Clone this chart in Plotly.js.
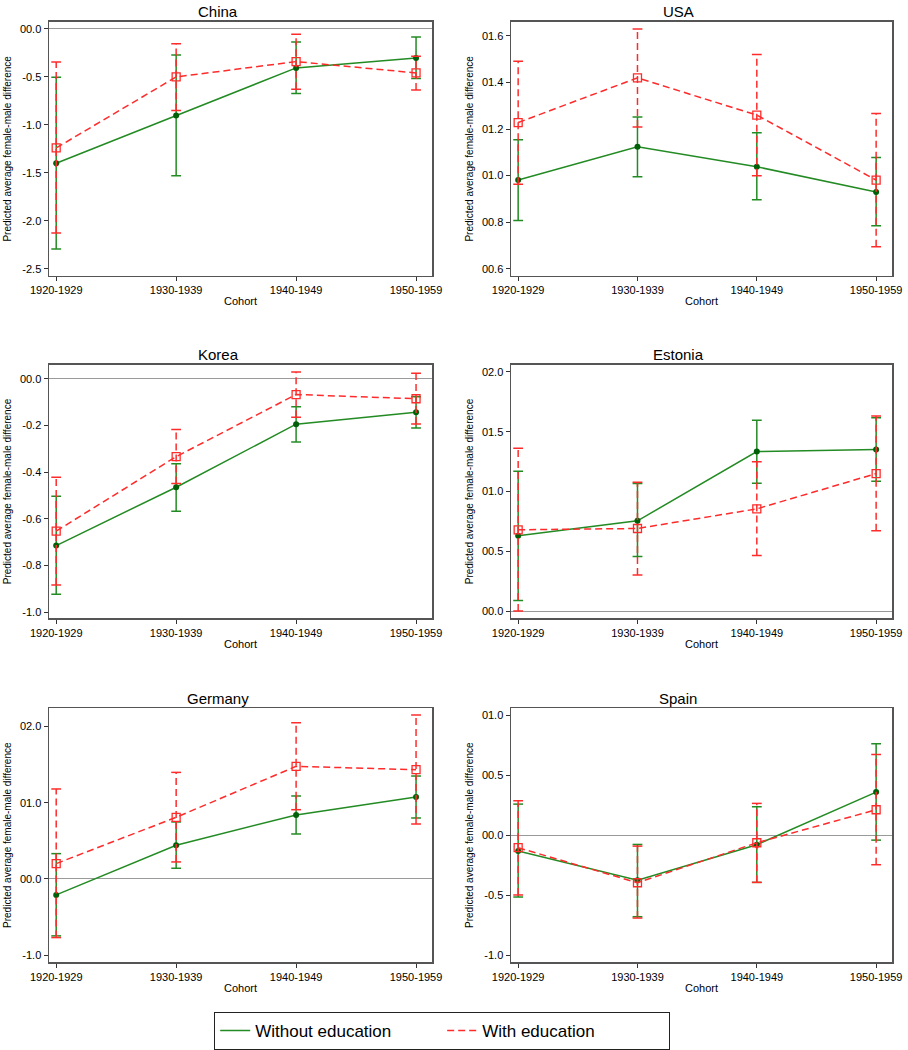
<!DOCTYPE html>
<html>
<head>
<meta charset="utf-8">
<script src="https://cdn.plot.ly/plotly-3.0.1.min.js"></script>
<style>
  body { margin: 0; background: #fff; }
  #chart { width: 908px; height: 1050px; }
</style>
</head>
<body>
<div id="chart"></div>
<script>
var cohorts = ['1920-1929', '1930-1939', '1940-1949', '1950-1959'];
var countries = ['China', 'USA', 'Korea', 'Estonia', 'Germany', 'Spain'];

// estimates and 95% CI bounds
var chinaWithout   = [-1.40, -0.903, -0.406, -0.302];
var chinaWithoutLo = [-2.295, -1.531, -0.674, -0.517];
var chinaWithoutHi = [-0.503, -0.271, -0.135, -0.083];
var chinaWith      = [-1.24, -0.50, -0.34, -0.458];
var chinaWithLo    = [-2.128, -0.851, -0.628, -0.635];
var chinaWithHi    = [-0.344, -0.153, -0.056, -0.285];

var usaWithout   = [0.981, 1.124, 1.038, 0.930];
var usaWithoutLo = [0.807, 0.995, 0.896, 0.785];
var usaWithoutHi = [1.154, 1.252, 1.184, 1.078];
var usaWith      = [1.228, 1.420, 1.260, 0.981];
var usaWithLo    = [0.963, 1.209, 0.999, 0.694];
var usaWithHi    = [1.491, 1.630, 1.520, 1.267];

var koreaWithout   = [-0.715, -0.465, -0.195, -0.144];
var koreaWithoutLo = [-0.924, -0.568, -0.271, -0.211];
var koreaWithoutHi = [-0.504, -0.364, -0.120, -0.078];
var koreaWith      = [-0.653, -0.334, -0.068, -0.086];
var koreaWithLo    = [-0.884, -0.449, -0.165, -0.194];
var koreaWithHi    = [-0.422, -0.218, 0.029, 0.023];

var estoniaWithout   = [0.630, 0.755, 1.334, 1.351];
var estoniaWithoutLo = [0.089, 0.457, 1.070, 1.086];
var estoniaWithoutHi = [1.170, 1.067, 1.596, 1.616];
var estoniaWith      = [0.680, 0.691, 0.855, 1.150];
var estoniaWithLo    = [0.000, 0.301, 0.465, 0.671];
var estoniaWithHi    = [1.362, 1.078, 1.248, 1.632];

var germanyWithout   = [-0.210, 0.442, 0.840, 1.076];
var germanyWithoutLo = [-0.748, 0.140, 0.590, 0.800];
var germanyWithoutHi = [0.332, 0.748, 1.089, 1.351];
var germanyWith      = [0.201, 0.809, 1.478, 1.434];
var germanyWithLo    = [-0.770, 0.223, 0.909, 0.721];
var germanyWithHi    = [1.181, 1.399, 2.051, 2.151];

var spainWithout   = [-0.133, -0.377, -0.080, 0.358];
var spainWithoutLo = [-0.516, -0.680, -0.394, -0.042];
var spainWithoutHi = [0.258, -0.078, 0.236, 0.760];
var spainWith      = [-0.105, -0.397, -0.064, 0.211];
var spainWithLo    = [-0.499, -0.691, -0.394, -0.247];
var spainWithHi    = [0.286, -0.092, 0.264, 0.671];

// y tick labels as printed on the figure
var chinaTicks = [-2.5, -2, -1.5, -1, -0.5, 0];
var chinaTickText = ['-2.5', '-2.0', '-1.5', '-1.0', '-0.5', '00.0'];
var usaTicks = [0.6, 0.8, 1.0, 1.2, 1.4, 1.6];
var usaTickText = ['00.6', '00.8', '01.0', '01.2', '01.4', '01.6'];
var koreaTicks = [-1, -0.8, -0.6, -0.4, -0.2, 0];
var koreaTickText = ['-1.0', '-0.8', '-0.6', '-0.4', '-0.2', '00.0'];
var estoniaTicks = [0, 0.5, 1, 1.5, 2];
var estoniaTickText = ['00.0', '00.5', '01.0', '01.5', '02.0'];
var germanyTicks = [-1, 0, 1, 2];
var germanyTickText = ['-1.0', '00.0', '01.0', '02.0'];
var spainTicks = [-1, -0.5, 0, 0.5, 1];
var spainTickText = ['-1.0', '-0.5', '00.0', '00.5', '01.0'];

var GREEN = '#238b23', GREEN_DOT = '#00600a', RED = '#ff2b2b';

var panels = [
  {name: 'China', wo: [chinaWithout, chinaWithoutLo, chinaWithoutHi], w: [chinaWith, chinaWithLo, chinaWithHi],
   ticks: chinaTicks, text: chinaTickText, range: [-2.573, 0.073]},
  {name: 'USA', wo: [usaWithout, usaWithoutLo, usaWithoutHi], w: [usaWith, usaWithLo, usaWithHi],
   ticks: usaTicks, text: usaTickText, range: [0.57, 1.66]},
  {name: 'Korea', wo: [koreaWithout, koreaWithoutLo, koreaWithoutHi], w: [koreaWith, koreaWithLo, koreaWithHi],
   ticks: koreaTicks, text: koreaTickText, range: [-1.027, 0.06]},
  {name: 'Estonia', wo: [estoniaWithout, estoniaWithoutLo, estoniaWithoutHi], w: [estoniaWith, estoniaWithLo, estoniaWithHi],
   ticks: estoniaTicks, text: estoniaTickText, range: [-0.061, 2.061]},
  {name: 'Germany', wo: [germanyWithout, germanyWithoutLo, germanyWithoutHi], w: [germanyWith, germanyWithLo, germanyWithHi],
   ticks: germanyTicks, text: germanyTickText, range: [-1.092, 2.24]},
  {name: 'Spain', wo: [spainWithout, spainWithoutLo, spainWithoutHi], w: [spainWith, spainWithLo, spainWithHi],
   ticks: spainTicks, text: spainTickText, range: [-1.058, 1.056]}
];

var W = 908, H = 1050;
var colX = [[49, 432], [511, 892]];
var rowY = [[22, 276], [365, 619], [709, 963]];
var titleX = [218, 678];

function ciTraces(set, color, dash, label, xa, ya, first) {
  var xs = [], ys = [];
  cohorts.forEach(function (c, i) {
    xs.push(c, c, null);
    ys.push(set[1][i], set[2][i], null);
  });
  var bars = {
    x: xs, y: ys, mode: 'lines', xaxis: xa, yaxis: ya,
    line: {color: color, width: 1.5, dash: dash},
    name: label, legendgroup: label, showlegend: first, hoverinfo: 'skip'
  };
  var caps = {
    x: cohorts.concat(cohorts), y: set[1].concat(set[2]), mode: 'markers',
    xaxis: xa, yaxis: ya, legendgroup: label, showlegend: false, hoverinfo: 'skip',
    marker: {symbol: 'line-ew', size: 7, color: color, line: {color: color, width: 1.5}}
  };
  return [bars, caps];
}

var data = [];
var layout = {
  width: W, height: H,
  margin: {l: 0, r: 0, t: 0, b: 0},
  paper_bgcolor: '#fff', plot_bgcolor: '#fff',
  font: {family: 'Liberation Sans, Arial, sans-serif', color: '#000'},
  showlegend: true,
  legend: {
    orientation: 'h', x: 0.487, xanchor: 'center', y: 1 - 1013 / H, yanchor: 'top',
    bordercolor: '#222', borderwidth: 1, font: {size: 17, color: '#000'}, traceorder: 'normal',
    entrywidth: 182, entrywidthmode: 'pixels'
  },
  annotations: []
};

panels.forEach(function (p, k) {
  var n = k + 1;
  var col = k % 2, row = Math.floor(k / 2);
  var xa = 'x' + n, ya = 'y' + n;
  var first = k === 0;

  data = data.concat(ciTraces(p.wo, GREEN, 'solid', 'Without education', xa, ya, first));
  data.push({
    x: cohorts, y: p.wo[0], mode: 'lines+markers', xaxis: xa, yaxis: ya, showlegend: false,
    legendgroup: 'Without education', name: 'Without education',
    line: {color: GREEN, width: 1.5},
    marker: {symbol: 'circle', size: 6, color: GREEN_DOT}
  });
  data = data.concat(ciTraces(p.w, RED, '7px,4px', 'With education', xa, ya, first));
  data.push({
    x: cohorts, y: p.w[0], mode: 'lines+markers', xaxis: xa, yaxis: ya, showlegend: false,
    legendgroup: 'With education', name: 'With education',
    line: {color: RED, width: 1.5, dash: '7px,4px'},
    marker: {symbol: 'square-open', size: 8, color: RED, line: {color: RED, width: 1.3}}
  });

  var cx = colX[col], ry = rowY[row];
  layout['xaxis' + n] = {
    domain: [cx[0] / W, cx[1] / W], anchor: ya, type: 'category',
    range: [-0.06, 3.133], showgrid: false, zeroline: false,
    showline: true, mirror: true, linecolor: '#555', linewidth: 1.5,
    ticks: 'outside', ticklen: 4, tickcolor: '#333',
    tickfont: {size: 11, color: '#000'},
    title: {text: 'Cohort', font: {size: 11, color: '#000'}, standoff: 2}
  };
  layout['yaxis' + n] = {
    domain: [1 - ry[1] / H, 1 - ry[0] / H], anchor: xa,
    range: p.range, tickvals: p.ticks, ticktext: p.text,
    showgrid: false, zeroline: true, zerolinecolor: '#9a9a9a', zerolinewidth: 1,
    showline: true, mirror: true, linecolor: '#555', linewidth: 1.5,
    ticks: 'outside', ticklen: 4, tickcolor: '#333',
    tickfont: {size: 11, color: '#000'},
    title: {text: 'Predicted average female-male difference', font: {size: 10, color: '#000'}, standoff: 6}
  };
  layout.annotations.push({
    text: p.name, xref: 'paper', yref: 'paper',
    x: titleX[col] / W, y: 1 - (ry[0] - 10) / H, xanchor: 'center', yanchor: 'middle',
    showarrow: false, font: {size: 15, color: '#000'}
  });
});

Plotly.newPlot('chart', data, layout, {displayModeBar: false, staticPlot: true});
</script>
</body>
</html>
